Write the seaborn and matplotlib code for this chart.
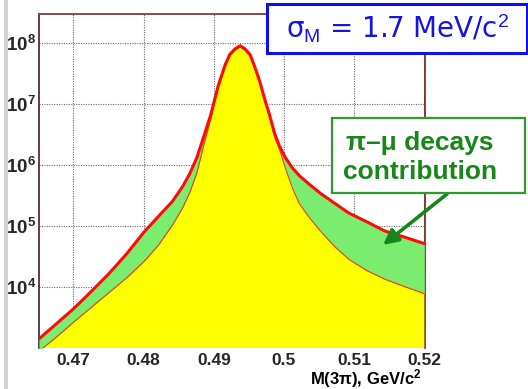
import matplotlib
matplotlib.use("Agg")
import matplotlib.pyplot as plt
from matplotlib.patches import Rectangle
from matplotlib.ticker import FixedLocator, FixedFormatter, LogLocator, NullFormatter
import seaborn as sns
import numpy as np

# Invariant mass of the three-pion system, GeV/c^2
mass = [0.4651, 0.4675, 0.4700, 0.4725, 0.4750, 0.4776, 0.4801, 0.4821,
        0.4841, 0.4856, 0.4866, 0.4876, 0.4886, 0.4896, 0.4906, 0.4916,
        0.4923, 0.49305, 0.49375, 0.49445, 0.4952, 0.49586, 0.49657,
        0.49727, 0.49797, 0.49868, 0.49938, 0.50019, 0.5012, 0.50221,
        0.50372, 0.50523, 0.50724, 0.50926, 0.51178, 0.5143, 0.51732, 0.5200]

# Total spectrum (including pi -> mu decays in flight)
total = [1.41e3, 2.45e3, 4.37e3, 8.32e3, 1.62e4, 3.50e4, 8.00e4, 1.42e5,
         2.51e5, 4.47e5, 7.24e5, 1.32e6, 2.95e6, 6.76e6, 1.91e7, 4.27e7,
         6.46e7, 7.94e7, 8.91e7, 7.94e7, 6.31e7, 3.98e7, 2.29e7,
         1.18e7, 6.46e6, 3.24e6, 2.00e6, 1.32e6, 8.91e5, 6.61e5,
         4.68e5, 3.39e5, 2.34e5, 1.62e5, 1.17e5, 8.32e4, 6.46e4, 5.13e4]

# Spectrum without pi -> mu decays
no_decays = [8.9e2, 1.48e3, 2.63e3, 4.57e3, 7.94e3, 1.41e4, 2.63e4, 4.79e4,
             1.02e5, 2.00e5, 3.55e5, 7.41e5, 2.14e6, 5.75e6, 1.82e7, 4.07e7,
             6.17e7, 7.59e7, 8.51e7, 7.59e7, 6.03e7, 3.80e7, 2.19e7,
             1.12e7, 6.03e6, 2.82e6, 1.78e6, 8.91e5, 4.17e5, 2.29e5,
             1.32e5, 8.13e4, 4.57e4, 2.82e4, 1.86e4, 1.35e4, 1.00e4, 7.76e3]

x_ticks = [0.47, 0.48, 0.49, 0.50, 0.51, 0.52]
x_tick_labels = ["0.47", "0.48", "0.49", "0.5", "0.51", "0.52"]
y_ticks = [1e4, 1e5, 1e6, 1e7, 1e8]
y_tick_labels = [r"$\mathbf{10^{4}}$", r"$\mathbf{10^{5}}$", r"$\mathbf{10^{6}}$",
                 r"$\mathbf{10^{7}}$", r"$\mathbf{10^{8}}$"]

sns.set_style("white")
plt.rcParams["font.family"] = ["Liberation Sans", "DejaVu Sans"]
plt.rcParams["mathtext.fontset"] = "custom"
plt.rcParams["mathtext.rm"] = "Liberation Sans"
plt.rcParams["mathtext.bf"] = "Liberation Sans:bold"
plt.rcParams["mathtext.it"] = "Liberation Sans:italic"

W, H = 528, 389
fig = plt.figure(figsize=(W / 100, H / 100), dpi=100)
fig.patch.set_facecolor("white")


def fx(px):
    return px / W


def fy(py):
    return 1 - py / H


ax = fig.add_axes([fx(39), fy(348), fx(425) - fx(39), fy(14) - fy(348)])
ax.set_yscale("log")
ax.set_xlim(0.4651, 0.5201)
ax.set_ylim(1e3, 2.95e8)

# filled components
ax.fill_between(mass, 1.0, no_decays, color="#ffff00", lw=0, zorder=3)
ax.fill_between(mass, no_decays, total, color="#7aec6e", lw=0, zorder=3)
sns.lineplot(x=mass, y=no_decays, ax=ax, color="#f23a10", lw=0.8,
             estimator=None, sort=False, zorder=4)
sns.lineplot(x=mass, y=total, ax=ax, color="#ff0a0a", lw=2.2,
             estimator=None, sort=False, zorder=5)

# grid
ax.set_axisbelow(True)
ax.grid(True, which="major", color="#6a6a6a", linestyle=(0, (1, 1.2)), lw=0.8)

ax.xaxis.set_major_locator(FixedLocator(x_ticks))
ax.xaxis.set_major_formatter(FixedFormatter(x_tick_labels))
ax.yaxis.set_major_locator(FixedLocator(y_ticks))
ax.yaxis.set_major_formatter(FixedFormatter(y_tick_labels))
ax.yaxis.set_minor_locator(LogLocator(base=10, subs=np.arange(2, 10)))
ax.yaxis.set_minor_formatter(NullFormatter())

ax.tick_params(axis="x", which="both", length=0, pad=3.5, labelsize=12.5)
for lab in ax.get_xticklabels():
    lab.set_fontweight("bold")
ax.tick_params(axis="y", which="major", direction="in", length=8, width=0.9,
               color="#4a3030", labelsize=13.5, pad=2)
ax.tick_params(axis="y", which="minor", direction="in", length=4.5, width=0.8,
               color="#4a3030")

ax.spines["left"].set_color("#3b2020")
ax.spines["left"].set_linewidth(1.2)
ax.spines["top"].set_color("#8c4848")
ax.spines["top"].set_linewidth(1.4)
ax.spines["right"].set_color("#7a1f1f")
ax.spines["right"].set_linewidth(1.2)
ax.spines["bottom"].set_visible(False)
ax.set_xlabel("")
ax.set_ylabel("")

# x-axis title
fig.text(fx(421), fy(379), r"M(3π), GeV/c$\mathbf{^{2}}$", ha="right",
         va="center", fontsize=12, fontweight="bold", color="black")

# grey bar at the left edge of the page
fig.add_artist(Rectangle((fx(3.5), 0), fx(4), 1, transform=fig.transFigure,
                         facecolor="#d2d2d2", edgecolor="none", zorder=0))

# resolution box
fig.add_artist(Rectangle((fx(267), fy(53)), fx(527) - fx(267), fy(3.5) - fy(53),
                         transform=fig.transFigure, facecolor="white",
                         edgecolor="#1010ee", lw=2.2, zorder=10))
fig.text(fx(398), fy(29), r"σ$_{\mathrm{M}}$ = 1.7 MeV/c$^{2}$", ha="center",
         va="center", fontsize=20, color="#1414e6", zorder=11,
         family=["DejaVu Sans"])

# decays box
fig.add_artist(Rectangle((fx(332), fy(193)), fx(525) - fx(332), fy(118) - fy(193),
                         transform=fig.transFigure, facecolor="white",
                         edgecolor="#2f9a2f", lw=1.6, zorder=10))
fig.text(fx(420), fy(143), "π–μ decays", ha="center", va="center",
         fontsize=19, fontweight="bold", color="#16881a", zorder=11)
fig.text(fx(420), fy(172), "contribution", ha="center", va="center",
         fontsize=19, fontweight="bold", color="#16881a", zorder=11)

# arrow pointing to the decay contribution
ax.annotate("", xy=(383, H - 245), xycoords="figure pixels",
            xytext=(447, H - 194), textcoords="figure pixels",
            arrowprops=dict(arrowstyle="-|>,head_length=0.9,head_width=0.45",
                            color="#15861c", lw=2.6, shrinkA=0, shrinkB=0),
            zorder=12, annotation_clip=False)

fig.savefig("out.png", dpi=100)
